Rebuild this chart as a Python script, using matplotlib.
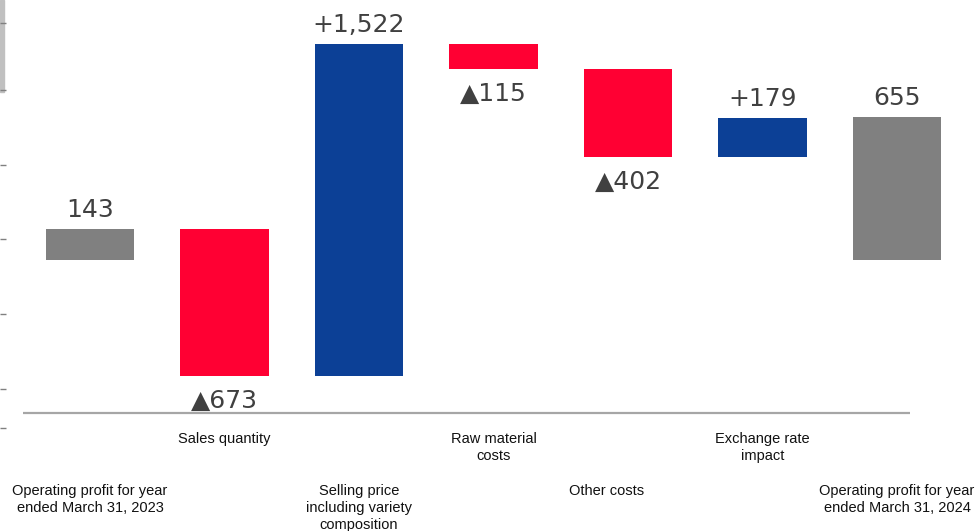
import matplotlib
matplotlib.use("Agg")
import matplotlib.pyplot as plt
from matplotlib.patches import Rectangle
from matplotlib.transforms import offset_copy

# waterfall of operating profit, FY2023 -> FY2024
categories = [
    "Operating profit for year\nended March 31, 2023",
    "Sales quantity",
    "Selling price\nincluding variety\ncomposition",
    "Raw material\ncosts",
    "Other costs",
    "Exchange rate\nimpact",
    "Operating profit for year\nended March 31, 2024",
]
changes = [143, -673, 1522, -115, -402, 179, 655]
is_total = [True, False, False, False, False, False, True]
value_labels = ["143", "▲673", "+1,522", "▲115", "▲402", "+179", "655"]
# upper/lower row for the category names
label_row = [1, 0, 1, 0, 1, 0, 1]
label_shift_px = [0, 0, 0, 0, -21, 0, 0]

GRAY = "#808080"
RED = "#ff0033"
BLUE = "#0c4096"

fig = plt.figure(figsize=(9.78, 5.31), dpi=100)
ax = fig.add_axes([0, 0, 1, 1])
ax.patch.set_visible(False)

running = 0
bottoms, heights, colors = [], [], []
for val, tot in zip(changes, is_total):
    if tot:
        bottoms.append(0)
        heights.append(val)
        colors.append(GRAY)
        running = val
    else:
        bottoms.append(running)
        heights.append(val)
        colors.append(BLUE if val > 0 else RED)
        running += val

xs = list(range(len(categories)))
ax.bar(xs, heights, bottom=bottoms, width=0.655, color=colors, linewidth=0)

ax.set_xlim(-0.669, 6.602)
ax.set_ylim(-1242, 1194)

# value labels: above the bar for gains/totals, below for losses
for x, b, h, txt in zip(xs, bottoms, heights, value_labels):
    top = max(b, b + h)
    low = min(b, b + h)
    if h < 0:
        tr = offset_copy(ax.transData, fig=fig, x=0, y=-13, units="dots")
        ax.text(x, low, txt, transform=tr, ha="center", va="top",
                fontsize=18, color="#404040", family="DejaVu Sans")
    else:
        tr = offset_copy(ax.transData, fig=fig, x=0, y=12, units="dots")
        ax.text(x, top, txt, transform=tr, ha="center", va="baseline",
                fontsize=18, color="#404040", family="DejaVu Sans")

# baseline under the bars
ax.hlines(-700, -0.5, 6.1, color="#a6a6a6", linewidth=1.6)

# category names in two staggered rows
for x, name, row, dx in zip(xs, categories, label_row, label_shift_px):
    y = 1 - 432 / 531 if row == 0 else 1 - 484 / 531
    tr = offset_copy(ax.get_xaxis_transform(), fig=fig, x=dx, y=0, units="dots")
    ax.text(x, y, name, transform=tr, ha="center", va="top", fontsize=10.5,
            family="Liberation Sans", color="#111111", linespacing=1.27,
            multialignment="center")

# left edge ticks
ax.set_yticks([1088, 781, 437, 97, -247, -591, -770])
ax.tick_params(axis="y", direction="in", length=4, width=1, color="#808080",
               labelleft=False)
ax.set_xticks([])
for s in ax.spines.values():
    s.set_visible(False)

fig.add_artist(Rectangle((0, 1 - 92 / 531), 4 / 978, 92 / 531,
                         transform=fig.transFigure, color="#c0c0c0", zorder=-1))

fig.savefig("out.png", dpi=100)
